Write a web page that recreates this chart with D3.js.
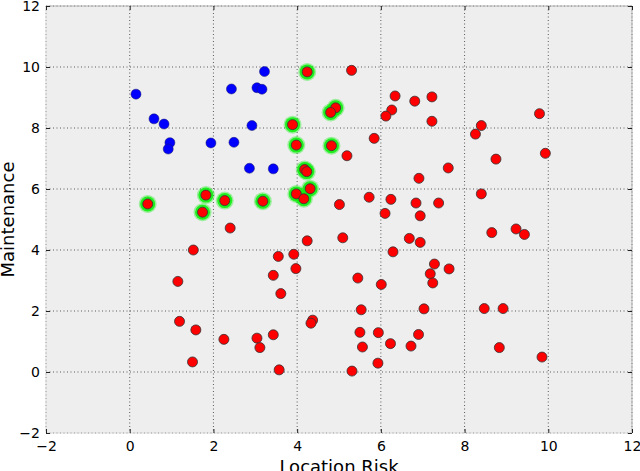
<!DOCTYPE html>
<html>
<head>
<meta charset="utf-8">
<script src="https://cdn.jsdelivr.net/npm/d3@7"></script>
<style>
  body { margin: 0; background: #fff; }
  svg { display: block; font-family: "DejaVu Sans", sans-serif; }
</style>
</head>
<body>
<div id="chart"></div>
<script>
// tick values on both axes
const xTicks = [-2, 0, 2, 4, 6, 8, 10, 12];
const yTicks = [-2, 0, 2, 4, 6, 8, 10, 12];

// blue group
const blueX = [0.15, 0.58, 0.82, 0.96, 0.92, 1.94, 3.22, 2.43, 3.04, 3.16, 2.92, 2.49, 2.86, 3.43];
const blueY = [9.11, 8.30, 8.13, 7.52, 7.31, 7.51, 9.85, 9.28, 9.32, 9.27, 8.08, 7.53, 6.68, 6.66];

// red points highlighted with a green halo
const haloX = [4.24, 4.92, 4.80, 3.89, 3.98, 4.82, 0.43, 1.82, 1.74, 2.27, 3.18, 4.18, 4.23, 3.98, 4.31, 4.16];
const haloY = [9.84, 8.66, 8.51, 8.11, 7.44, 7.42, 5.51, 5.80, 5.24, 5.62, 5.60, 6.64, 6.57, 5.84, 6.01, 5.68];

// plain red points
const redX = [5.30, 6.34, 6.81, 6.26, 6.12, 5.84, 5.19, 7.22, 7.22, 9.79, 8.40, 8.26, 8.75, 9.93, 7.61,
  6.91, 8.40, 7.38, 6.84, 6.94, 8.65, 9.23, 9.43, 6.94, 6.68, 7.28, 7.63, 7.18, 7.24, 7.03, 8.47, 8.92,
  6.90, 8.83, 9.85, 5.72, 6.24, 6.10, 5.01, 2.40, 4.24, 5.09, 6.29, 3.55, 3.92, 3.97, 3.43, 5.45, 6.01,
  3.61, 5.53, 1.52, 1.15, 1.19, 1.58, 1.50, 2.25, 3.04, 3.11, 3.43, 3.57, 4.37, 4.33, 5.50, 5.56, 5.31,
  5.94, 5.93, 6.23, 6.72];
const redY = [9.89, 9.05, 8.88, 8.59, 8.39, 7.66, 7.09, 9.02, 8.22, 8.47, 8.08, 7.80, 6.98, 7.17, 6.69,
  6.35, 5.84, 5.54, 5.54, 5.12, 4.57, 4.69, 4.51, 4.25, 4.38, 3.54, 3.38, 3.22, 2.92, 2.07, 2.08, 2.08,
  1.23, 0.80, 0.49, 5.73, 5.66, 5.20, 5.49, 4.72, 4.30, 4.40, 3.94, 3.79, 3.86, 3.39, 3.17, 3.08, 2.87,
  2.57, 2.04, 4.00, 2.97, 1.66, 1.38, 0.33, 1.07, 1.11, 0.80, 1.22, 0.07, 1.70, 1.60, 1.30, 0.82, 0.03,
  1.29, 0.29, 0.93, 0.85];

const W = 640, H = 471;
const margin = { top: 6, right: 8, bottom: 38, left: 46 };
const width = W - margin.left - margin.right;
const height = H - margin.top - margin.bottom;

const svg = d3.select("#chart").append("svg")
  .attr("width", W)
  .attr("height", H);

const g = svg.append("g")
  .attr("transform", `translate(${margin.left},${margin.top})`);

const x = d3.scaleLinear().domain([-2, 12]).range([0, width]);
const y = d3.scaleLinear().domain([-2, 12]).range([height, 0]);

// plot background
g.append("rect")
  .attr("width", width)
  .attr("height", height)
  .attr("fill", "#eeeeee");

// dotted grid
g.append("g").selectAll("line")
  .data(xTicks)
  .enter().append("line")
  .attr("x1", d => x(d)).attr("x2", d => x(d))
  .attr("y1", 0).attr("y2", height)
  .attr("stroke", "#333")
  .attr("stroke-width", 0.8)
  .attr("stroke-dasharray", "1,2.5");

g.append("g").selectAll("line")
  .data(yTicks)
  .enter().append("line")
  .attr("y1", d => y(d)).attr("y2", d => y(d))
  .attr("x1", 0).attr("x2", width)
  .attr("stroke", "#333")
  .attr("stroke-width", 0.8)
  .attr("stroke-dasharray", "1,2.5");

// frame: top and right light gray, bottom and left very faint
g.append("path")
  .attr("d", `M0,0H${width}V${height}`)
  .attr("fill", "none")
  .attr("stroke", "#b0b0b0")
  .attr("stroke-width", 1);
g.append("path")
  .attr("d", `M0,0V${height}H${width}`)
  .attr("fill", "none")
  .attr("stroke", "#dddddd")
  .attr("stroke-width", 1);

// axes with inward ticks on all sides
const styleAxis = sel => {
  sel.select(".domain").remove();
  sel.selectAll(".tick line").attr("stroke", "#222");
  sel.selectAll("text").attr("fill", "#000").style("font-size", "14px")
    .style("font-family", "DejaVu Sans, sans-serif");
};

g.append("g")
  .attr("transform", `translate(0,${height})`)
  .call(d3.axisBottom(x).tickValues(xTicks).tickSizeInner(-4).tickSizeOuter(0).tickPadding(8)
    .tickFormat(d => d < 0 ? "\u2212" + Math.abs(d) : d))
  .call(styleAxis);

g.append("g")
  .call(d3.axisLeft(y).tickValues(yTicks).tickSizeInner(-4).tickSizeOuter(0).tickPadding(6)
    .tickFormat(d => d < 0 ? "\u2212" + Math.abs(d) : d))
  .call(styleAxis);

g.append("g")
  .call(d3.axisTop(x).tickValues(xTicks).tickSizeInner(-4).tickSizeOuter(0).tickFormat(""))
  .call(styleAxis);

g.append("g")
  .attr("transform", `translate(${width},0)`)
  .call(d3.axisRight(y).tickValues(yTicks).tickSizeInner(-4).tickSizeOuter(0).tickFormat(""))
  .call(styleAxis);

// points
const blue = blueX.map((v, i) => ({ x: v, y: blueY[i] }));
const halo = haloX.map((v, i) => ({ x: v, y: haloY[i] }));
const red = redX.map((v, i) => ({ x: v, y: redY[i] }));

const pts = g.append("g");

// soft outer edge of the halo, then the bright core
pts.selectAll(".haloOuter")
  .data(halo)
  .enter().append("circle")
  .attr("class", "haloOuter")
  .attr("cx", d => x(d.x))
  .attr("cy", d => y(d.y))
  .attr("r", 9)
  .attr("fill", "#00ee00")
  .attr("opacity", 0.35);

pts.selectAll(".halo")
  .data(halo)
  .enter().append("circle")
  .attr("class", "halo")
  .attr("cx", d => x(d.x))
  .attr("cy", d => y(d.y))
  .attr("r", 7.5)
  .attr("fill", "#11ee11")
  .attr("opacity", 0.9);

pts.selectAll(".blue")
  .data(blue)
  .enter().append("circle")
  .attr("class", "blue")
  .attr("cx", d => x(d.x))
  .attr("cy", d => y(d.y))
  .attr("r", 5)
  .attr("fill", "#0000ff")
  .attr("stroke", "#1a1a66")
  .attr("stroke-width", 0.5);

pts.selectAll(".red")
  .data(red.concat(halo))
  .enter().append("circle")
  .attr("class", "red")
  .attr("cx", d => x(d.x))
  .attr("cy", d => y(d.y))
  .attr("r", 5)
  .attr("fill", "#ff0000")
  .attr("stroke", "#333")
  .attr("stroke-width", 0.8);

// axis titles
svg.append("text")
  .attr("x", margin.left + width / 2)
  .attr("y", 473)
  .attr("text-anchor", "middle")
  .style("font-size", "18px")
  .text("Location Risk");

svg.append("text")
  .attr("transform", `translate(14,${margin.top + height / 2}) rotate(-90)`)
  .attr("text-anchor", "middle")
  .style("font-size", "18px")
  .text("Maintenance");
</script>
</body>
</html>
